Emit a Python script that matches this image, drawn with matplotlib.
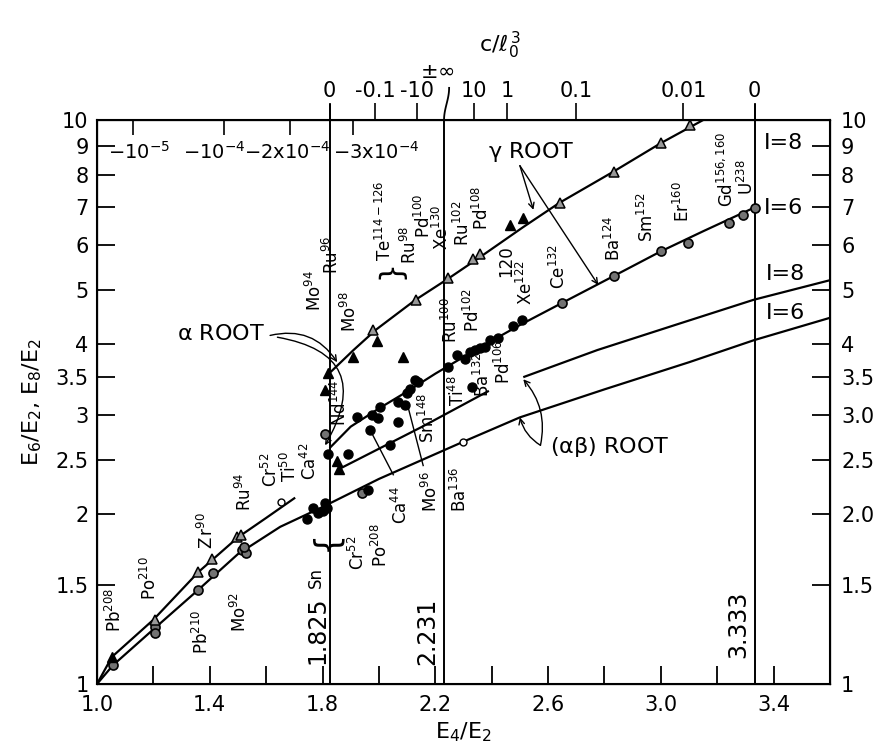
import matplotlib
matplotlib.use("Agg")
import matplotlib.pyplot as plt
import matplotlib.transforms as mtransforms
import numpy as np

plt.rcParams['font.family'] = 'DejaVu Sans'
plt.rcParams['mathtext.default'] = 'regular'

# --- theory curves, E4/E2 -> E6/E2 or E8/E2 ---
ab6_x = [1.0, 1.057, 1.2, 1.36, 1.5, 1.65, 1.8, 2.0, 2.3, 2.5, 2.8, 3.1, 3.33, 3.6]
ab6_y = [1.0, 1.08, 1.25, 1.47, 1.70, 1.90, 2.06, 2.31, 2.69, 2.97, 3.33, 3.72, 4.07, 4.46]
low8_x = [1.0, 1.053, 1.2, 1.36, 1.5, 1.6, 1.703]
low8_y = [1.0, 1.117, 1.30, 1.58, 1.82, 1.97, 2.14]
ab8a_x = [1.855, 2.154, 2.39]
ab8a_y = [2.40, 2.86, 3.31]
ab8b_x = [2.512, 2.775, 3.05, 3.329, 3.6]
ab8b_y = [3.50, 3.91, 4.33, 4.80, 5.20]
a6_x = [1.825, 1.9, 2.0, 2.1, 2.2, 2.3, 2.4, 2.5, 2.65, 2.83, 3.0, 3.15, 3.333]
a6_y = [2.62, 2.86, 3.08, 3.30, 3.55, 3.80, 4.06, 4.33, 4.74, 5.28, 5.85, 6.35, 7.0]
a8_x = [1.825, 1.91, 1.99, 2.13, 2.25, 2.36, 2.51, 2.64, 2.83, 3.0, 3.15]
a8_y = [3.56, 3.91, 4.25, 4.80, 5.25, 5.72, 6.45, 7.13, 8.09, 9.10, 10.0]
limits = [1.825, 2.231, 3.333]

# --- measured nuclei ---
ring_x = [1.057, 1.206, 1.206, 1.359, 1.41, 1.515, 1.53, 1.52, 1.809, 1.94,
          2.651, 2.835, 3.002, 3.098, 3.24, 3.29, 3.333]
ring_y = [1.08, 1.26, 1.23, 1.47, 1.574, 1.73, 1.71, 1.75, 2.77, 2.18,
          4.74, 5.29, 5.86, 6.05, 6.57, 6.78, 6.98]
dot_x = [1.745, 1.767, 1.785, 1.80, 1.81, 1.815, 1.82, 1.891, 1.923, 1.976, 2.005,
         1.997, 2.068, 2.093, 2.068, 1.969, 2.04, 2.10, 2.11, 2.129, 2.14, 1.962,
         2.246, 2.278, 2.306, 2.324, 2.342, 2.36, 2.377, 2.395, 2.424, 2.477, 2.509, 2.331]
dot_y = [1.96, 2.05, 2.01, 2.03, 2.09, 2.05, 2.56, 2.56, 2.97, 3.00, 3.10,
         2.96, 3.16, 3.12, 2.91, 2.82, 2.65, 3.28, 3.33, 3.46, 3.43, 2.21,
         3.65, 3.83, 3.77, 3.88, 3.91, 3.94, 3.96, 4.08, 4.11, 4.31, 4.42, 3.36]
open_x = [1.653, 2.30]
open_y = [2.10, 2.69]
tri_x = [1.053, 1.82, 1.81, 1.909, 2.086, 1.994, 1.852, 1.86, 2.466, 2.512]
tri_y = [1.117, 3.56, 3.32, 3.80, 3.80, 4.05, 2.49, 2.41, 6.51, 6.70]
trio_x = [1.206, 1.359, 1.408, 1.497, 1.51, 1.98, 2.13, 2.246, 2.335, 2.36,
          2.644, 2.835, 3.002, 3.105]
trio_y = [1.30, 1.58, 1.665, 1.82, 1.84, 4.25, 4.80, 5.25, 5.67, 5.79,
          7.13, 8.09, 9.10, 9.80]

# nucleus names (rotated)
names = ["Pb$^{208}$", "Po$^{210}$", "Z$_{\\,}$r$^{90}$", "Ru$^{94}$", "Cr$^{52}$", "Ti$^{50}$",
         "Ca$^{42}$", "Sn", "Cr$^{52}$", "Po$^{208}$", "Ca$^{44}$", "Mo$^{96}$", "Sm$^{148}$",
         "Nd$^{144}$", "Mo$^{94}$", "Ru$^{96}$", "Mo$^{98}$", "Te$^{114-126}$", "Ru$^{98}$",
         "Pd$^{100}$", "Xe$^{130}$", "Ru$^{102}$", "Pd$^{108}$", "Ru$^{100}$", "Pd$^{102}$",
         "Ti$^{48}$", "Ba$^{132}$", "Pd$^{106}$", "Xe$^{122}$", "120", "Ce$^{132}$",
         "Ba$^{124}$", "Sm$^{152}$", "Er$^{160}$", "Gd$^{156,160}$", "U$^{238}$",
         "Ba$^{136}$", "Pb$^{210}$", "Mo$^{92}$"]
name_x = [1.064, 1.188, 1.383, 1.525, 1.618, 1.686, 1.756, 1.777, 1.927, 2.008, 2.079,
          2.186, 2.175, 1.862, 1.774, 1.834, 1.898, 2.022, 2.111, 2.161, 2.225, 2.299,
          2.367, 2.256, 2.332, 2.282, 2.370, 2.445, 2.522, 2.452, 2.637, 2.832, 2.949,
          3.080, 3.233, 3.304, 2.289, 1.373, 1.508]
name_y = [1.353, 1.542, 1.875, 2.19, 2.40, 2.43, 2.48, 1.542, 1.71, 1.764, 2.077,
          2.19, 2.96, 3.15, 4.98, 5.76, 4.57, 6.62, 6.00, 6.76, 6.46, 6.57,
          6.98, 4.42, 4.60, 3.32, 3.53, 3.72, 5.14, 5.62, 5.49, 6.18, 6.73,
          7.18, 8.19, 7.93, 2.21, 1.236, 1.342]

# top c/l0^3 scale
c_pos = [1.825, 1.987, 2.136, 2.338, 2.455, 2.700, 3.080, 3.333]
c_lab = ["0", "-0.1", "-10", "10", "1", "0.1", "0.01", "0"]
c_in_pos = [1.128, 1.451, 1.685, 1.909]
c_in_lab = ["$-10^{-5}$", "$-10^{-4}$", "$-2$x$10^{-4}$", "$-3$x$10^{-4}$"]
c_in_x = [1.15, 1.415, 1.675, 1.99]

yt = [1, 1.5, 2, 2.5, 3, 3.5, 4, 5, 6, 7, 8, 9, 10]
yl_left = ["1", "1.5", "2", "2.5", "3", "3.5", "4", "5", "6", "7", "8", "9", "10"]
yl_right = ["1", "1.5", "2.0", "2.5", "3.0", "3.5", "4", "5", "6", "7", "8", "9", "10"]
xt = [1.0, 1.2, 1.4, 1.6, 1.8, 2.0, 2.2, 2.4, 2.6, 2.8, 3.0, 3.2, 3.4]
xl = ["1.0", "", "1.4", "", "1.8", "", "2.2", "", "2.6", "", "3.0", "", "3.4"]

fig = plt.figure(figsize=(8.88, 7.52), dpi=100)
ax = fig.add_axes([0.1092, 0.0904, 0.8255, 0.75])
ax.set_yscale('log')
ax.set_xlim(1.0, 3.6)
ax.set_ylim(1.0, 10.0)

lk = dict(color='k', lw=1.6, solid_capstyle='butt')
ax.plot(ab6_x, ab6_y, **lk)
ax.plot(low8_x, low8_y, **lk)
ax.plot(ab8a_x, ab8a_y, **lk)
ax.plot(ab8b_x, ab8b_y, **lk)
ax.plot(a6_x, a6_y, **lk)
ax.plot(a8_x, a8_y, **lk)

top_tr = mtransforms.blended_transform_factory(ax.transData, ax.transAxes)
for v in limits:
    ax.plot([v, v], [0, 1.0], color='k', lw=1.4, transform=top_tr, clip_on=False)
# the +-inf S-curve above 2.231
t = np.linspace(0, 1, 30)
ax.plot(2.231 + 0.018 * (1 - np.cos(np.pi * t)) / 2, 1.0 + 0.057 * t,
        color='k', lw=1.3, transform=top_tr, clip_on=False)
for v in [1.825, 3.333]:
    ax.plot([v, v], [1.0, 1.027], color='k', lw=1.4, transform=top_tr, clip_on=False)

ax.plot(ring_x, ring_y, 'o', ms=6.5, mfc='0.45', mec='k', mew=1.2, ls='none', zorder=5)
ax.plot(dot_x, dot_y, 'o', ms=6.5, mfc='k', mec='k', ls='none', zorder=5)
ax.plot(open_x, open_y, 'o', ms=5, mfc='white', mec='k', mew=1.0, ls='none', zorder=5)
ax.plot(tri_x, tri_y, '^', ms=7, mfc='k', mec='k', ls='none', zorder=5)
ax.plot(trio_x, trio_y, '^', ms=7, mfc='0.6', mec='k', mew=1.1, ls='none', zorder=5)

for s, x, y in zip(names, name_x, name_y):
    ax.text(x, y, s, rotation=90, ha='center', va='center', fontsize=12)

ax.text(1.781, 1.247, "1.825", rotation=90, ha='center', va='center', fontsize=17)
ax.text(2.171, 1.242, "2.231", rotation=90, ha='center', va='center', fontsize=17)
ax.text(3.275, 1.278, "3.333", rotation=90, ha='center', va='center', fontsize=17)

# braces
ax.text(1.813, 1.80, "{", rotation=90, ha='center', va='center', fontsize=24)
ax.text(2.033, 5.30, "{", rotation=-90, ha='center', va='center', fontsize=22)

# leader lines
ax.plot([1.969, 2.051], [2.82, 2.35], color='k', lw=1.0)
ax.plot([2.104, 2.157], [3.09, 2.44], color='k', lw=1.0)

for s, x, y in [("I=8", 3.435, 9.10), ("I=6", 3.435, 6.98),
                ("I=8", 3.442, 5.33), ("I=6", 3.442, 4.55)]:
    ax.text(x, y, s, ha='center', va='center', fontsize=16)

ax.text(2.541, 8.78, r"$\gamma$ ROOT", ha='center', va='center', fontsize=16)
ax.text(1.440, 4.17, r"$\alpha$ ROOT", ha='center', va='center', fontsize=16)
ax.text(2.818, 2.63, r"($\alpha\beta$) ROOT", ha='center', va='center', fontsize=16)

ap = dict(arrowstyle='->', color='k', lw=1.0, shrinkA=0, shrinkB=0)
ax.annotate('', xy=(2.548, 6.93), xytext=(2.50, 8.3),
            arrowprops=dict(ap, connectionstyle='arc3,rad=0.0'))
ax.annotate('', xy=(2.778, 5.10), xytext=(2.50, 8.3),
            arrowprops=dict(ap, connectionstyle='arc3,rad=0.0'))
ax.annotate('', xy=(1.852, 3.72), xytext=(1.614, 4.15),
            arrowprops=dict(ap, connectionstyle='arc3,rad=-0.35'))
ax.annotate('', xy=(1.809, 2.65), xytext=(1.64, 4.12),
            arrowprops=dict(ap, connectionstyle='angle3,angleA=-10,angleB=-120'))
ax.annotate('', xy=(2.512, 3.47), xytext=(2.573, 2.65),
            arrowprops=dict(ap, connectionstyle='arc3,rad=0.25'))
ax.annotate('', xy=(2.50, 2.97), xytext=(2.573, 2.65),
            arrowprops=dict(ap, connectionstyle='arc3,rad=-0.2'))

# axes ticks
ax.set_yticks(yt)
ax.set_yticklabels(yl_left)
ax.yaxis.set_minor_locator(matplotlib.ticker.NullLocator())
ax.set_xticks(xt)
ax.set_xticklabels(xl)
ax.tick_params(axis='both', which='major', direction='in', length=13, width=1.3,
               labelsize=15, pad=6)
ax.tick_params(axis='x', pad=8)
for sp in ax.spines.values():
    sp.set_linewidth(1.5)

ax2 = ax.twinx()
ax2.set_yscale('log')
ax2.set_ylim(1.0, 10.0)
ax2.set_yticks(yt)
ax2.set_yticklabels(yl_right)
ax2.yaxis.set_minor_locator(matplotlib.ticker.NullLocator())
ax2.tick_params(axis='y', direction='in', length=13, width=1.3, labelsize=15, pad=8)

ax3 = ax.twiny()
ax3.set_xlim(1.0, 3.6)
ax3.set_xticks(c_pos)
ax3.set_xticklabels(c_lab)
ax3.set_xticks(c_in_pos, minor=True)
ax3.tick_params(axis='x', which='major', direction='out', length=12, width=1.2,
                labelsize=15, pad=2)
ax3.tick_params(axis='x', which='minor', direction='in', length=11, width=1.2)
for x, s in zip(c_in_x, c_in_lab):
    ax.text(x, 0.943, s, transform=top_tr, ha='center', va='center', fontsize=14)

ax.text(2.207, 1.085, r"$\pm\infty$", transform=top_tr, ha='center', va='center',
        fontsize=15)
ax.text(2.43, 1.133, r"$c/\ell_0^{\,3}$", transform=top_tr, ha='center', va='center',
        fontsize=16)

ax.set_xlabel("E$_4$/E$_2$", fontsize=16, labelpad=4)
ax.set_ylabel("E$_6$/E$_2$, E$_8$/E$_2$", fontsize=16, labelpad=8)

fig.savefig("out.png", dpi=100, facecolor='white')
